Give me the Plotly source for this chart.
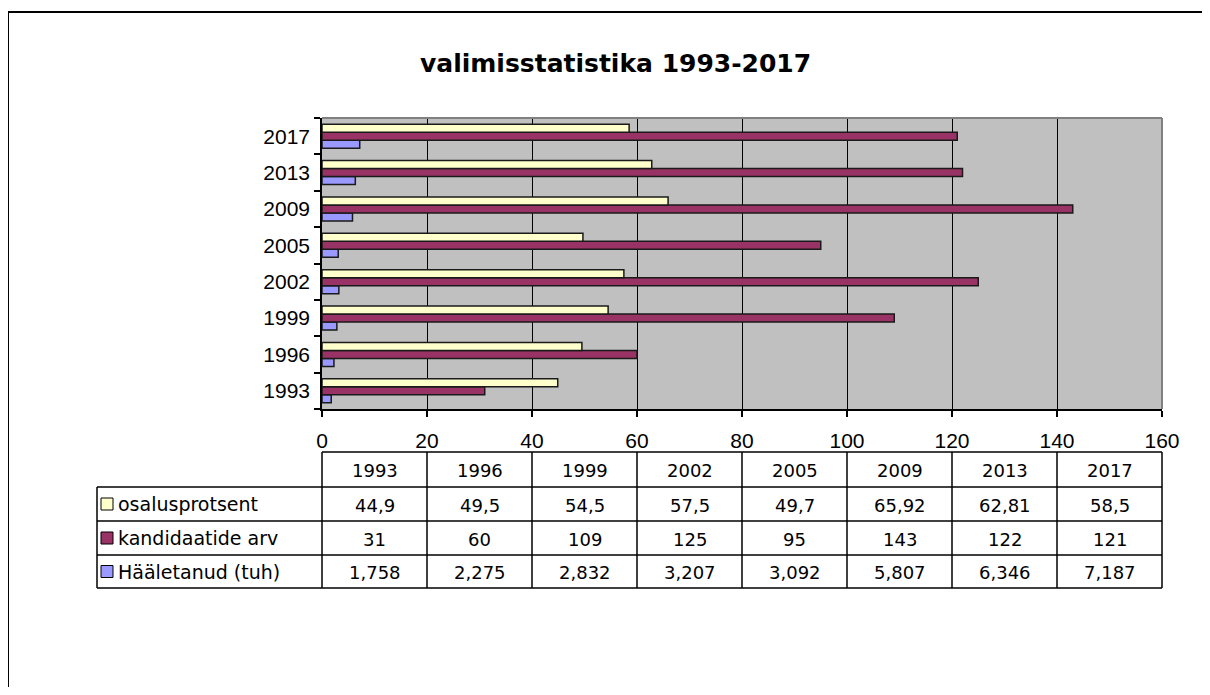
import plotly.graph_objects as go

# ---------------- data ----------------
years = ["1993", "1996", "1999", "2002", "2005", "2009", "2013", "2017"]
osalusprotsent = [44.9, 49.5, 54.5, 57.5, 49.7, 65.92, 62.81, 58.5]
kandidaatide_arv = [31, 60, 109, 125, 95, 143, 122, 121]
haaletanud_tuh = [1.758, 2.275, 2.832, 3.207, 3.092, 5.807, 6.346, 7.187]
x_ticks = [0, 20, 40, 60, 80, 100, 120, 140, 160]

series_names = ["osalusprotsent", "kandidaatide arv", "Hääletanud (tuh)"]
series_values = [osalusprotsent, kandidaatide_arv, haaletanud_tuh]
series_colors = ["#FFFFCC", "#993366", "#9999FF"]

title_text = "valimisstatistika 1993-2017"

# ---------------- geometry helpers ----------------
OFF = 8                      # page body margin
W, H = 1210 - 2 * OFF, 695 - 2 * OFF
SL, SR, ST, SB = 322, 1162, 118, 409     # plot area in screen pixels
L, R, T, B = SL - OFF, SR - OFF, ST - OFF, SB - OFF
XMIN, XMAX = 0, 160

def px(x):
    return (x - OFF - L) / (R - L)

def py(y):
    return (B - (y - OFF)) / (B - T)

def vx(v):
    return (v - XMIN) / (XMAX - XMIN)

tfont = "DejaVu Sans, Verdana, sans-serif"
arial = "Arial, Liberation Sans, sans-serif"

fig = go.Figure()
# plotly places the first trace at the bottom of each group for horizontal bars
for name, vals, col in reversed(list(zip(series_names, series_values, series_colors))):
    fig.add_trace(go.Bar(
        y=years, x=vals, name=name, orientation="h",
        marker=dict(color=col, line=dict(color="#1a1a1a", width=1.5)),
        showlegend=False,
    ))

shapes = []
annotations = []

# plot-area grey border (top & right)
shapes.append(dict(type="line", xref="paper", yref="paper", x0=0, x1=1, y0=1, y1=1,
                   line=dict(color="#808080", width=2), layer="above"))
shapes.append(dict(type="line", xref="paper", yref="paper", x0=1, x1=1, y0=0, y1=1,
                   line=dict(color="#808080", width=2), layer="above"))

# outer frame (left + top)
shapes.append(dict(type="line", xref="paper", yref="paper", x0=px(8), x1=px(8), y0=py(12), y1=py(720),
                   line=dict(color="black", width=2)))
shapes.append(dict(type="line", xref="paper", yref="paper", x0=px(8), x1=px(1230), y0=py(12), y1=py(12),
                   line=dict(color="black", width=2)))

# ---------------- data table ----------------
tab_left = 97
row_edges = [452, 487, 521, 555, 588]
col_edges = [vx(t) for t in x_ticks]
line_style = dict(color="black", width=1.5)

shapes.append(dict(type="line", xref="paper", yref="paper", x0=col_edges[0], x1=col_edges[-1],
                   y0=py(row_edges[0]), y1=py(row_edges[0]), line=line_style))
for ry in row_edges[1:]:
    shapes.append(dict(type="line", xref="paper", yref="paper", x0=px(tab_left), x1=col_edges[-1],
                       y0=py(ry), y1=py(ry), line=line_style))
shapes.append(dict(type="line", xref="paper", yref="paper", x0=px(tab_left), x1=px(tab_left),
                   y0=py(row_edges[1]), y1=py(row_edges[-1]), line=line_style))
for cx in col_edges:
    shapes.append(dict(type="line", xref="paper", yref="paper", x0=cx, x1=cx,
                       y0=py(row_edges[0]), y1=py(row_edges[-1]), line=line_style))

for i, yr in enumerate(years):
    xc = (col_edges[i] + col_edges[i + 1]) / 2
    annotations.append(dict(xref="paper", yref="paper", x=xc, y=py((row_edges[0] + row_edges[1]) / 2 + 1),
                            xanchor="center", yanchor="middle",
                            text=yr, showarrow=False, font=dict(family=tfont, size=18, color="black")))

def fmt(v):
    return f"{v:g}".replace(".", ",")

for r, (name, vals, col) in enumerate(zip(series_names, series_values, series_colors)):
    yc = (row_edges[r + 1] + row_edges[r + 2]) / 2
    shapes.append(dict(type="rect", xref="paper", yref="paper",
                       x0=px(101), x1=px(113), y0=py(yc + 6), y1=py(yc - 6),
                       fillcolor=col, line=dict(color="black", width=1)))
    annotations.append(dict(xref="paper", yref="paper", x=px(116), y=py(yc), xanchor="left",
                            yanchor="middle", text=name, showarrow=False,
                            font=dict(family=tfont, size=19, color="black")))
    for i, v in enumerate(vals):
        xc = (col_edges[i] + col_edges[i + 1]) / 2
        annotations.append(dict(xref="paper", yref="paper", x=xc, y=py(yc + 1),
                                xanchor="center", yanchor="middle",
                                text=fmt(v), showarrow=False,
                                font=dict(family=tfont, size=18, color="black")))

annotations.append(dict(xref="paper", yref="paper", x=px(615), y=py(63),
                        xanchor="center", yanchor="middle",
                        text="<b>" + title_text + "</b>", showarrow=False,
                        font=dict(family=tfont, size=25, color="black")))

fig.update_layout(
    width=W, height=H,
    margin=dict(l=L, r=W - R, t=T, b=H - B, pad=0),
    paper_bgcolor="white",
    plot_bgcolor="#C0C0C0",
    barmode="group",
    bargap=0.34,
    bargroupgap=0,
    shapes=shapes,
    annotations=annotations,
    xaxis=dict(
        range=[XMIN, XMAX], tickvals=x_ticks, ticktext=[str(t) for t in x_ticks],
        showgrid=True, gridcolor="black", gridwidth=1,
        showline=True, linecolor="black", linewidth=1.5,
        ticks="outside", ticklen=6, tickcolor="black", tickwidth=1.5,
        tickfont=dict(family=arial, size=21, color="black"),
        ticklabelstandoff=6, zeroline=False, fixedrange=True,
    ),
    yaxis=dict(
        type="category", categoryorder="array", categoryarray=years,
        showgrid=False, showline=True, linecolor="black", linewidth=1.5,
        ticks="outside", ticklen=6, tickcolor="black", tickwidth=1.5,
        tickson="boundaries",
        tickfont=dict(family=arial, size=21, color="black"),
        ticklabelstandoff=6, fixedrange=True,
    ),
)

fig.write_html("out.html")
